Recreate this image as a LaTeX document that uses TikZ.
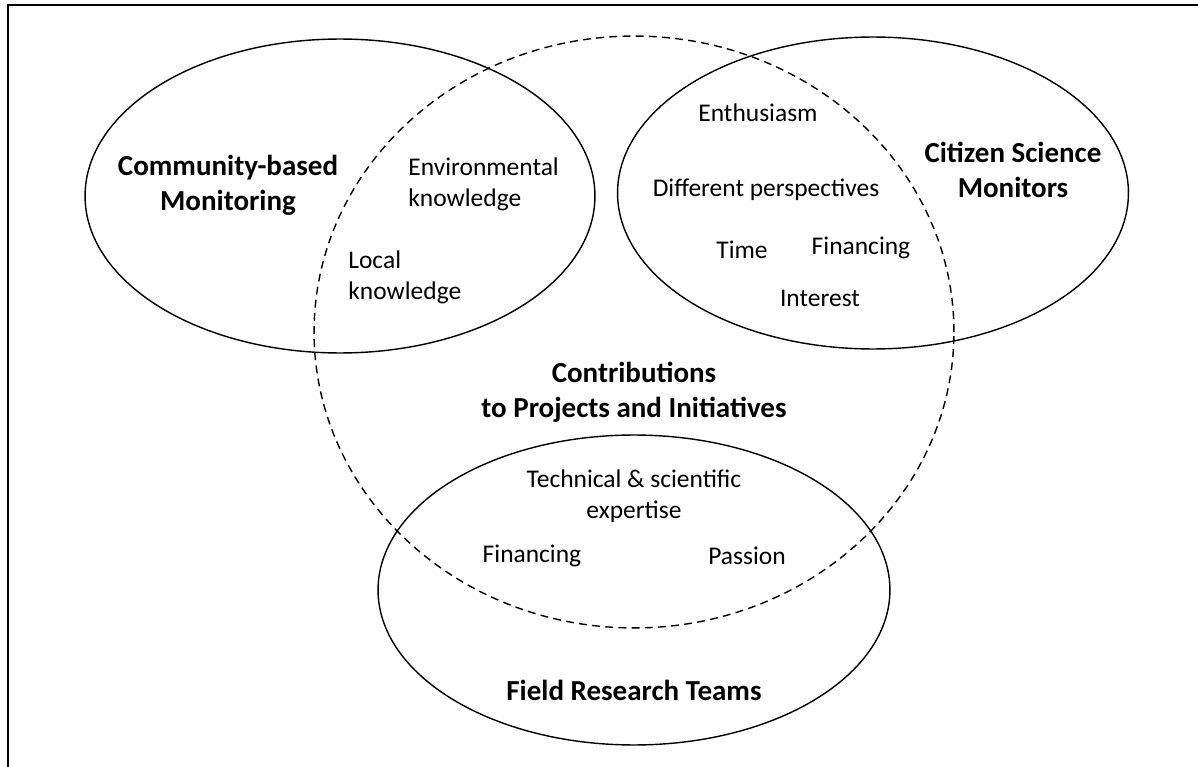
\documentclass[tikz,border=0pt]{standalone}
\usepackage{fontspec}
\setmainfont{Carlito}
\begin{document}
\begin{tikzpicture}[x=0.02cm,y=-0.02cm,
    label text/.style={font=\fontsize{14.5}{17.6}\selectfont,align=center,inner sep=0pt},
    group text/.style={label text,font=\fontsize{16.5}{19.8}\selectfont\bfseries},
    group/.style={line width=0.8pt},
    contrib/.style={line width=0.8pt,dash pattern=on 4.5pt off 3pt}]
    \useasboundingbox (0,0) rectangle (1198,767);
    \draw[line width=1.2pt] (8,767) -- (8,5) -- (1198,5);
    % the three groups and the dashed contributions circle
    \draw[group] (340,196) ellipse [x radius=5.1cm,y radius=3.14cm];
    \draw[group] (873,193) ellipse [x radius=5.11cm,y radius=3.12cm];
    \draw[group] (634,590) ellipse [x radius=5.12cm,y radius=3.1cm];
    \draw[contrib] (634,332) ellipse [x radius=6.4cm,y radius=5.92cm];
    % labels
    \node[group text] (cbm) at (228,185) {Community-based\\Monitoring};
    \node[label text,align=left,anchor=west] (envk) at (408,184) {Environmental\\knowledge};
    \node[label text,align=left,anchor=west] (localk) at (348,277) {Local\\knowledge};
    \node[label text] (enth) at (758,113) {Enthusiasm};
    \node[label text] (persp) at (766,190) {Different perspectives};
    \node[label text] (time) at (742,250) {Time};
    \node[label text] (fincs) at (861,248) {Financing};
    \node[label text] (inter) at (820,298) {Interest};
    \node[group text] (csm) at (1013,170) {Citizen Science\\Monitors};
    \node[group text] (contrib) at (634,392) {Contributions\\to Projects and Initiatives};
    \node[label text] (tech) at (634,496) {Technical \& scientific\\expertise};
    \node[label text] (finfr) at (532,556) {Financing};
    \node[label text] (pass) at (747,556) {Passion};
    \node[group text] (frt) at (634,690) {Field Research Teams};
\end{tikzpicture}
\end{document}
